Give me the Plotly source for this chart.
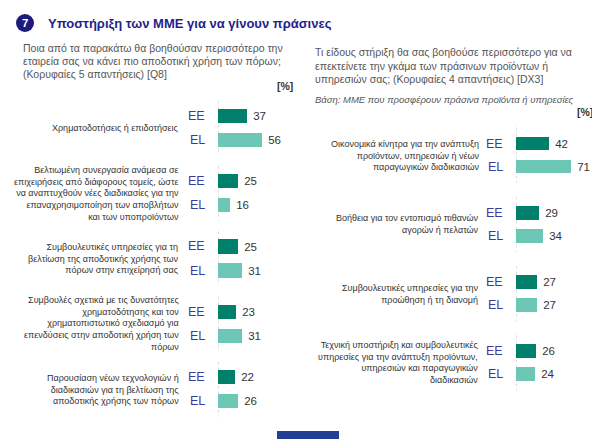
import plotly.graph_objects as go

# ---------------- data ----------------
left_categories = [
    "Χρηματοδοτήσεις ή επιδοτήσεις",
    "Βελτιωμένη συνεργασία ανάμεσα σε<br>επιχειρήσεις από διάφορους τομείς, ώστε<br>να αναπτυχθούν νέες διαδικασίες για την<br>επαναχρησιμοποίηση των αποβλήτων<br>και των υποπροϊόντων",
    "Συμβουλευτικές υπηρεσίες για τη<br>βελτίωση της αποδοτικής χρήσης των<br>πόρων στην επιχείρησή σας",
    "Συμβουλές σχετικά με τις δυνατότητες<br>χρηματοδότησης και τον<br>χρηματοπιστωτικό σχεδιασμό για<br>επενδύσεις στην αποδοτική χρήση των<br>πόρων",
    "Παρουσίαση νέων τεχνολογιών ή<br>διαδικασιών για τη βελτίωση της<br>αποδοτικής χρήσης των πόρων",
]
left_ee = [37, 25, 25, 23, 22]
left_el = [56, 16, 31, 31, 26]

right_categories = [
    "Οικονομικά κίνητρα για την ανάπτυξη<br>προϊόντων, υπηρεσιών ή νέων<br>παραγωγικών διαδικασιών",
    "Βοήθεια για τον εντοπισμό πιθανών<br>αγορών ή πελατών",
    "Συμβουλευτικές υπηρεσίες για την<br>προώθηση ή τη διανομή",
    "Τεχνική υποστήριξη και συμβουλευτικές<br>υπηρεσίες για την ανάπτυξη προϊόντων,<br>υπηρεσιών και παραγωγικών<br>διαδικασιών",
]
right_ee = [42, 29, 27, 26]
right_el = [71, 34, 27, 24]

series_labels = ["EE", "EL"]

title_text = "Υποστήριξη των ΜΜΕ για να γίνουν πράσινες"
left_question = [
    "Ποια από τα παρακάτω θα βοηθούσαν περισσότερο την",
    "εταιρεία σας να κάνει πιο αποδοτική χρήση των πόρων;",
    "(Κορυφαίες 5 απαντήσεις) [Q8]",
]
right_question = [
    "Τι είδους στήριξη θα σας βοηθούσε περισσότερο για να",
    "επεκτείνετε την γκάμα των πράσινων προϊόντων ή",
    "υπηρεσιών σας; (Κορυφαίες 4 απαντήσεις) [DX3]",
]
right_base = "Βάση: ΜΜΕ που προσφέρουν πράσινα προϊόντα ή υπηρεσίες"
unit_label = "[%]"

# ---------------- styling ----------------
W, H = 600, 439
FONT = "Liberation Sans"
DARK = "#00806a"
LIGHT = "#6cc8b4"
NAVY = "#1f1f8c"
LBL = "#3b3b9c"
GREY = "#555555"
TXT = "#333333"


def px(xp):
    return xp / W


def py(yp):
    return 1 - yp / H


fig = go.Figure()

panels = [
    dict(cats=left_categories, ee=left_ee, el=left_el, xa="x", ya="y",
         off=0.184, bw=0.215, label_right=173, line_half=0.42),
    dict(cats=right_categories, ee=right_ee, el=right_el, xa="x2", ya="y2",
         off=0.166, bw=0.2, label_right=473, line_half=0.40),
]

annotations = []
shapes = []

for p in panels:
    n = len(p["cats"])
    g = list(range(n))
    for vals, color, sign, lab in [(p["ee"], DARK, -1, series_labels[0]),
                                   (p["el"], LIGHT, 1, series_labels[1])]:
        ys = [gi + sign * p["off"] for gi in g]
        fig.add_trace(go.Bar(
            x=vals, y=ys, orientation="h", width=p["bw"],
            marker=dict(color=color, line=dict(width=0)),
            text=[f" {v}" for v in vals], textposition="outside",
            textfont=dict(family=FONT, size=11.5, color=TXT),
            cliponaxis=False, xaxis=p["xa"], yaxis=p["ya"],
            showlegend=False, hoverinfo="skip",
        ))
        for yv in ys:
            annotations.append(dict(
                x=0, y=yv, xref=p["xa"], yref=p["ya"], xanchor="right",
                yanchor="middle", xshift=-11, showarrow=False, text=lab,
                font=dict(family=FONT, size=12.5, color=LBL)))
    for gi, cat in zip(g, p["cats"]):
        annotations.append(dict(
            x=px(p["label_right"]), y=gi, xref="paper", yref=p["ya"],
            xanchor="right", yanchor="middle", align="right",
            showarrow=False, text=cat,
            font=dict(family=FONT, size=9, color=TXT)))
        shapes.append(dict(
            type="line", xref=p["xa"], yref=p["ya"], x0=0, x1=0,
            y0=gi - p["line_half"], y1=gi + p["line_half"],
            line=dict(color="#c0c0c0", width=1, dash="dot"), layer="below"))

# title circle & number
shapes.append(dict(type="circle", xref="paper", yref="paper",
                   x0=px(8), x1=px(26), y0=py(24), y1=py(6),
                   fillcolor="#1c1c80", line=dict(width=0)))
annotations.append(dict(x=px(17), y=py(15), xref="paper", yref="paper",
                        text="<b>7</b>", showarrow=False,
                        font=dict(family=FONT, size=11.5, color="white"),
                        xanchor="center", yanchor="middle"))
annotations.append(dict(x=px(38), y=py(16), xref="paper", yref="paper",
                        text=f"<b>{title_text}</b>", showarrow=False,
                        font=dict(family=FONT, size=13, color=NAVY),
                        xanchor="left", yanchor="middle"))

for i, line in enumerate(left_question):
    annotations.append(dict(x=px(13), y=py(40 + 13 * i), xref="paper", yref="paper",
                            text=line, showarrow=False,
                            font=dict(family=FONT, size=10.5, color=GREY),
                            xanchor="left", yanchor="middle"))
for i, line in enumerate(right_question):
    annotations.append(dict(x=px(305), y=py(44 + 13.5 * i), xref="paper", yref="paper",
                            text=line, showarrow=False,
                            font=dict(family=FONT, size=10.5, color=GREY),
                            xanchor="left", yanchor="middle"))
annotations.append(dict(x=px(305), y=py(91), xref="paper", yref="paper",
                        text=f"<i>{right_base}</i>", showarrow=False,
                        font=dict(family=FONT, size=9.5, color=GREY),
                        xanchor="left", yanchor="middle"))
annotations.append(dict(x=px(287), y=py(78), xref="paper", yref="paper",
                        text=f"<b>{unit_label}</b>", showarrow=False,
                        font=dict(family=FONT, size=10.5, color=TXT),
                        xanchor="right", yanchor="middle"))
annotations.append(dict(x=px(587), y=py(104), xref="paper", yref="paper",
                        text=f"<b>{unit_label}</b>", showarrow=False,
                        font=dict(family=FONT, size=10.5, color=TXT),
                        xanchor="right", yanchor="middle"))

# bottom blue tab
shapes.append(dict(type="rect", xref="paper", yref="paper",
                   x0=px(269), x1=px(331), y0=py(439), y1=py(423),
                   fillcolor="#233f95", line=dict(width=0)))

XMAX = 90 / 0.78
left_top = -120 / 65.25
left_bot = (439 - 120) / 65.25
right_top = -147 / 69.3
right_bot = (439 - 147) / 69.3

axis_common = dict(visible=False, showgrid=False, zeroline=False, fixedrange=True)

fig.update_layout(
    width=W, height=H,
    margin=dict(l=0, r=0, t=0, b=0),
    paper_bgcolor="white", plot_bgcolor="white",
    bargap=0, barmode="overlay",
    xaxis=dict(domain=[px(210), px(300)], range=[0, XMAX], anchor="y", **axis_common),
    yaxis=dict(domain=[0, 1], range=[left_bot, left_top], anchor="x", **axis_common),
    xaxis2=dict(domain=[px(508), px(598)], range=[0, XMAX], anchor="y2", **axis_common),
    yaxis2=dict(domain=[0, 1], range=[right_bot, right_top], anchor="x2", **axis_common),
    annotations=annotations,
    shapes=shapes,
    font=dict(family=FONT),
)

fig.write_html("out.html")
